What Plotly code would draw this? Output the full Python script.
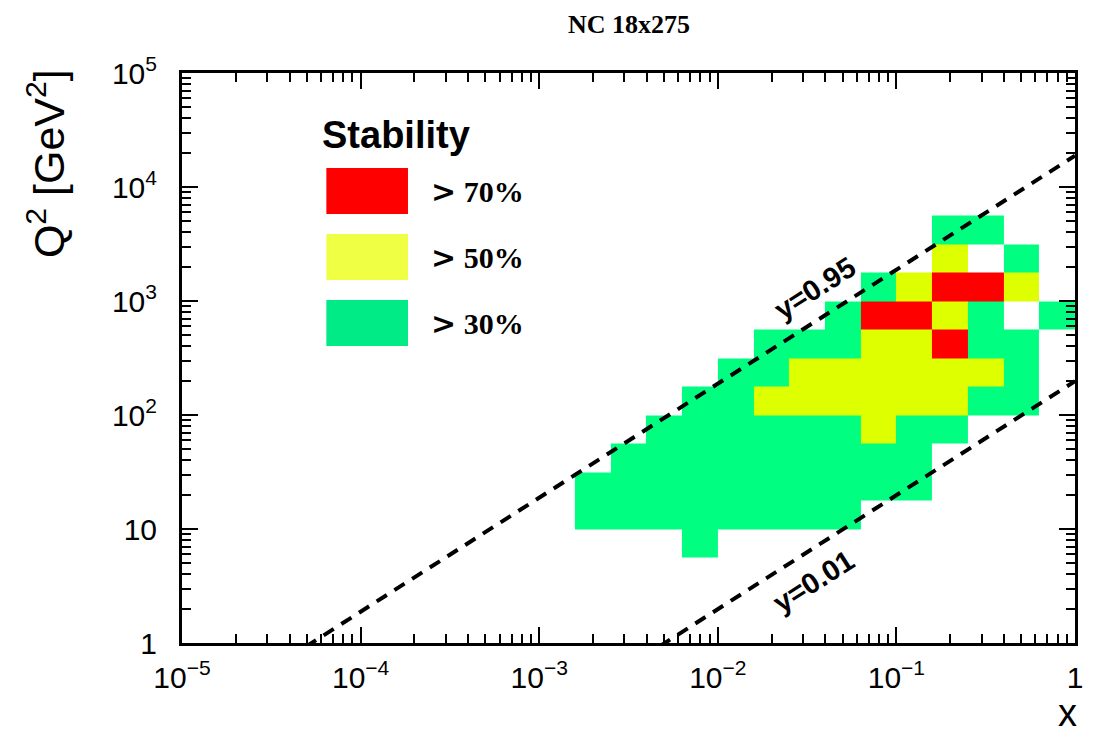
import numpy as np
import plotly.graph_objects as go

# ---------------- data ----------------
title_text = "NC 18x275"
beam_e, beam_p = 18.0, 275.0          # GeV
y_lines = [0.95, 0.01]
y_line_labels = ["y=0.95", "y=0.01"]

# bin definitions (log10 of edges)
logx_lo, logx_step, n_x = -2.8, 0.2, 14
logq_lo, logq_step, n_q = 0.75, 0.25, 12

# stability per bin (fraction); None = empty bin.  rows: Q2 bins (low -> high), cols: x bins
N = None
stability = [
    [N, N, N, .38, N, N, N, N, N, N, N, N, N, N],                                 # 0.75-1.0
    [.34, .36, .40, .42, .41, .39, .37, .33, N, N, N, N, N, N],                   # 1.0-1.25
    [.35, .38, .42, .44, .45, .43, .42, .40, .37, .33, N, N, N, N],               # 1.25-1.5
    [N, .36, .41, .45, .46, .47, .46, .44, .40, .35, N, N, N, N],                 # 1.5-1.75
    [N, N, .37, .43, .46, .48, .49, .48, .52, .47, .38, N, N, N],                 # 1.75-2.0
    [N, N, N, .40, .46, .53, .56, .58, .59, .57, .54, .45, .36, N],               # 2.0-2.25
    [N, N, N, N, .41, .48, .54, .58, .62, .63, .60, .53, .40, N],                 # 2.25-2.5
    [N, N, N, N, N, .40, .46, .49, .58, .66, .72, .47, .38, N],                   # 2.5-2.75
    [N, N, N, N, N, N, N, .44, .74, .76, .62, .45, .22, .33],                     # 2.75-3.0
    [N, N, N, N, N, N, N, N, .42, .58, .73, .71, .55, N],                         # 3.0-3.25
    [N, N, N, N, N, N, N, N, N, N, .56, .24, .35, N],                             # 3.25-3.5
    [N, N, N, N, N, N, N, N, N, N, .36, .34, N, N],                               # 3.5-3.75
]

legend_labels = ["70%", "50%", "30%"]

# ---------------- derived ----------------
s = 4 * beam_e * beam_p
x_edges = 10 ** (logx_lo + logx_step * np.arange(n_x + 1))
q_edges = 10 ** (logq_lo + logq_step * np.arange(n_q + 1))

GREEN, YELLOW, RED = "rgb(0,255,128)", "rgb(221,255,0)", "rgb(255,0,0)"
LEG_COLORS = ["rgb(255,0,0)", "rgb(238,255,68)", "rgb(0,235,133)"]

SANS = "Liberation Sans, Arial, Helvetica, sans-serif"
SERIF = "Liberation Serif, Times New Roman, serif"

OFF = 8                      # page body margin
W, H = 1103 - 2 * OFF, 742 - 2 * OFF
L, R, T, B = 182, 1079, 73, 643   # plot area in page pixels

fig = go.Figure()

fig.add_trace(go.Heatmap(
    x=x_edges, y=q_edges, z=stability,
    zmin=0, zmax=1,
    colorscale=[[0, "white"], [0.3, "white"], [0.3, GREEN], [0.5, GREEN],
                [0.5, YELLOW], [0.7, YELLOW], [0.7, RED], [1.0, RED]],
    showscale=False, hoverinfo="skip",
))

x_range = np.array([1e-5, 1.0])
for yv in y_lines:
    fig.add_trace(go.Scatter(
        x=x_range, y=yv * s * x_range, mode="lines",
        line=dict(color="black", width=4, dash="12px,9px"),
        hoverinfo="skip", showlegend=False,
    ))

# axes
x_major = [1e-5, 1e-4, 1e-3, 1e-2, 1e-1, 1]
x_text = ["10<sup>−5</sup>", "10<sup>−4</sup>", "10<sup>−3</sup>",
          "10<sup>−2</sup>", "10<sup>−1</sup>", "1"]
y_major = [1, 10, 100, 1e3, 1e4, 1e5]
y_text = ["1", "10", "10<sup>2</sup>", "10<sup>3</sup>", "10<sup>4</sup>", "10<sup>5</sup>"]


def minors(lo, hi):
    return [m * 10.0 ** d for d in range(lo, hi) for m in range(2, 10)]


common = dict(
    showline=True, linecolor="black", linewidth=3, mirror="ticks",
    ticks="inside", ticklen=16, tickwidth=2, tickcolor="black",
    showgrid=False, zeroline=False,
    tickfont=dict(family=SANS, size=30, color="black"),
)
fig.update_xaxes(type="log", range=[-5, 0], tickmode="array",
                 tickvals=x_major, ticktext=x_text, ticklabelstandoff=6,
                 minor=dict(tickmode="array", tickvals=minors(-5, 0), ticks="inside",
                            ticklen=9, tickwidth=2, tickcolor="black", showgrid=False),
                 **common)
fig.update_yaxes(type="log", range=[0, 5], tickmode="array",
                 tickvals=y_major, ticktext=y_text, ticklabelstandoff=16,
                 minor=dict(tickmode="array", tickvals=minors(0, 5), ticks="inside",
                            ticklen=9, tickwidth=2, tickcolor="black", showgrid=False),
                 **common)


def px(xp):
    return (xp - L) / (R - L)


def py(yp):
    return (B - yp) / (B - T)


ann = []
# axis titles
ann.append(dict(text="Q<sup>2</sup> [GeV<sup>2</sup>]", xref="paper", yref="paper",
                x=px(46), y=py(67), xanchor="center", yanchor="top", textangle=-90,
                showarrow=False, font=dict(family=SANS, size=43, color="black")))
ann.append(dict(text="x", xref="paper", yref="paper", x=px(1083), y=py(713),
                xanchor="right", yanchor="middle", showarrow=False,
                font=dict(family=SANS, size=38, color="black")))

# line labels (parallel to lines)
ang = np.degrees(np.arctan(((B - T) / 5) / ((R - L) / 5)))
label_pos = [(-1.455, 3.115), (-1.46, 0.54)]
for txt, (lx, ly) in zip(y_line_labels, label_pos):
    ann.append(dict(text="<b>%s</b>" % txt, x=lx, y=ly, xref="x", yref="y",
                    textangle=-ang, showarrow=False,
                    font=dict(family=SANS, size=29, color="black")))

# legend
ann.append(dict(text="<b>Stability</b>", xref="paper", yref="paper", x=px(321), y=py(135),
                xanchor="left", yanchor="middle", showarrow=False,
                font=dict(family=SANS, size=38, color="black")))
shapes = []
patch_tops = [168, 234, 300]
for lab, col, top in zip(legend_labels, LEG_COLORS, patch_tops):
    shapes.append(dict(type="rect", xref="paper", yref="paper",
                       x0=px(327), x1=px(409), y0=py(top + 46), y1=py(top),
                       fillcolor=col, line=dict(width=0), layer="above"))
    ann.append(dict(text="<span style='font-family:DejaVu Sans'><b>&gt;</b></span> <b>%s</b>" % lab,
                    xref="paper", yref="paper",
                    x=px(430), y=py(top + 23), xanchor="left", yanchor="middle",
                    showarrow=False, font=dict(family=SERIF, size=30, color="black")))

fig.update_layout(
    width=W, height=H,
    margin=dict(l=L - OFF, r=W + OFF - R, t=T - OFF, b=H + OFF - B, pad=0),
    paper_bgcolor="white", plot_bgcolor="white",
    showlegend=False,
    title=dict(text="<b>%s</b>" % title_text, x=(629 - OFF) / W,
               xanchor="center", y=1 - (24 - OFF) / H, yanchor="middle",
               font=dict(family=SERIF, size=26, color="black")),
    annotations=ann, shapes=shapes,
)

fig.write_html("out.html")
